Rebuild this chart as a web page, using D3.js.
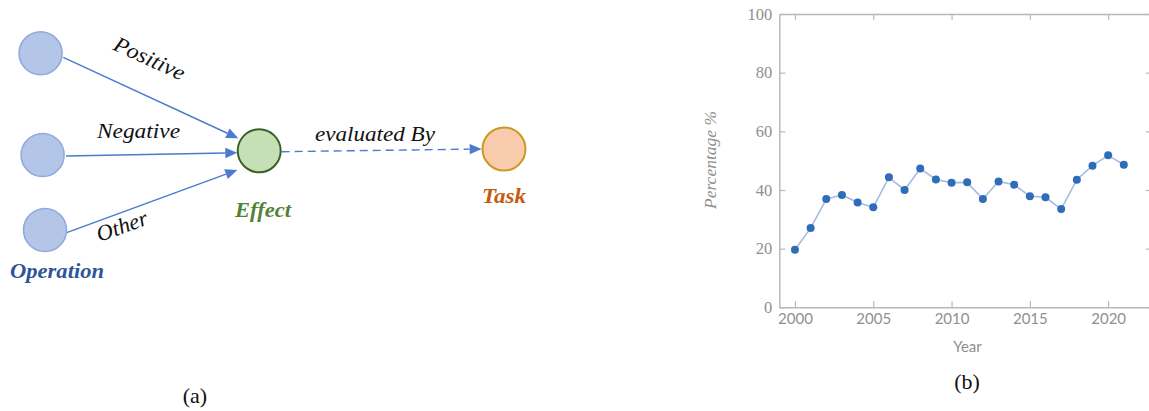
<!DOCTYPE html>
<html>
<head>
<meta charset="utf-8">
<script src="https://cdn.jsdelivr.net/npm/d3@7"></script>
<style>
  html, body { margin: 0; padding: 0; background: #ffffff; }
  svg { display: block; }
</style>
</head>
<body>
<svg id="fig" width="1149" height="411"></svg>
<script>
// ---- Panel (b) data: share per year ----
const years = [2000, 2001, 2002, 2003, 2004, 2005, 2006, 2007, 2008, 2009, 2010,
               2011, 2012, 2013, 2014, 2015, 2016, 2017, 2018, 2019, 2020, 2021];
const percentages = [19.6, 27.0, 36.9, 38.3, 35.7, 34.1, 44.3, 40.0, 47.3, 43.6, 42.5,
                     42.6, 36.9, 42.9, 41.8, 37.9, 37.5, 33.5, 43.5, 48.3, 51.8, 48.6];
const xTickYears = [2000, 2005, 2010, 2015, 2020];
const yTickValues = [0, 20, 40, 60, 80, 100];

// ---- Panel (a) schema: nodes and relations ----
const operationNodes = ["op1", "op2", "op3"];
const relationLabels = ["Positive", "Negative", "Other"];

const svg = d3.select("#fig");
const serif = "'Liberation Serif', 'Times New Roman', serif";

// ================= Panel (a): concept diagram =================
const ga = svg.append("g");

const nodePos = {
  op1: [40.6, 53.3], op2: [42.6, 155], op3: [45, 230],
  effect: [259.2, 150.8], task: [504, 149]
};
const nodeStyle = {
  op: { fill: "#b4c6e7", stroke: "#8faadc", width: 1.6 },
  effect: { fill: "#c5e0b4", stroke: "#3a5f27", width: 2 },
  task: { fill: "#f8cbad", stroke: "#c99a1e", width: 2 }
};
const blue = "#4a7bcc";

// edges: start point on the source circle, arrow tip near the target circle
const edges = [
  { from: [63.3, 57.3], to: [238.3, 138.3], dashed: false },
  { from: [66, 156], to: [237.3, 152.7], dashed: false },
  { from: [66.7, 232.7], to: [237.3, 170], dashed: false },
  { from: [281.7, 151.7], to: [481.7, 149], dashed: true }
];

function arrow(g, e) {
  const [x1, y1] = e.from, [x2, y2] = e.to;
  const dx = x2 - x1, dy = y2 - y1, len = Math.hypot(dx, dy);
  const ux = dx / len, uy = dy / len;
  const headLen = 12, headHalf = 5.2;
  const bx = x2 - ux * headLen, by = y2 - uy * headLen;
  g.append("line")
    .attr("x1", x1).attr("y1", y1).attr("x2", bx).attr("y2", by)
    .attr("stroke", blue).attr("stroke-width", 1.4)
    .attr("stroke-dasharray", e.dashed ? "8,5" : null);
  g.append("path")
    .attr("d", d3.line()([[x2, y2], [bx - uy * headHalf, by + ux * headHalf], [bx + uy * headHalf, by - ux * headHalf]]) + "Z")
    .attr("fill", blue);
}
edges.forEach(e => arrow(ga, e));

operationNodes.forEach(id => {
  ga.append("circle").attr("cx", nodePos[id][0]).attr("cy", nodePos[id][1]).attr("r", 21.5)
    .attr("fill", nodeStyle.op.fill).attr("stroke", nodeStyle.op.stroke)
    .attr("stroke-width", nodeStyle.op.width);
});
ga.append("circle").attr("cx", nodePos.effect[0]).attr("cy", nodePos.effect[1]).attr("r", 21.5)
  .attr("fill", nodeStyle.effect.fill).attr("stroke", nodeStyle.effect.stroke)
  .attr("stroke-width", nodeStyle.effect.width);
ga.append("circle").attr("cx", nodePos.task[0]).attr("cy", nodePos.task[1]).attr("r", 21.5)
  .attr("fill", nodeStyle.task.fill).attr("stroke", nodeStyle.task.stroke)
  .attr("stroke-width", nodeStyle.task.width);

// relation labels (italic, along the edges)
const relLayout = [
  { x: 146.5, y: 65, rot: 24.5, len: 76 },
  { x: 138.5, y: 138.3, rot: 0, len: 83 },
  { x: 124.5, y: 233, rot: -20, len: 53 }
];
relationLabels.forEach((t, i) => {
  const L = relLayout[i];
  ga.append("text")
    .attr("transform", `translate(${L.x},${L.y}) rotate(${L.rot})`)
    .attr("text-anchor", "middle")
    .attr("textLength", L.len).attr("lengthAdjust", "spacingAndGlyphs")
    .attr("font-family", serif).attr("font-style", "italic").attr("font-size", 22)
    .attr("fill", "#111").text(t);
});
ga.append("text").attr("x", 375).attr("y", 140.7).attr("text-anchor", "middle")
  .attr("textLength", 120).attr("lengthAdjust", "spacingAndGlyphs")
  .attr("font-family", serif).attr("font-style", "italic").attr("font-size", 22)
  .attr("fill", "#111").text("evaluated By");

// node type labels
const typeLabels = [
  { text: "Operation", x: 57, y: 278, color: "#2f5597", len: 94 },
  { text: "Effect", x: 263, y: 216.7, color: "#548235", len: 56 },
  { text: "Task", x: 504, y: 203, color: "#c55a11", len: 44 }
];
typeLabels.forEach(l => {
  ga.append("text").attr("x", l.x).attr("y", l.y).attr("text-anchor", "middle")
    .attr("textLength", l.len).attr("lengthAdjust", "spacingAndGlyphs")
    .attr("font-family", serif).attr("font-style", "italic").attr("font-weight", "bold")
    .attr("font-size", 22).attr("fill", l.color).text(l.text);
});

// ================= Panel (b): line chart =================
const gb = svg.append("g");
const x = d3.scaleLinear().domain([1999, 2022.8]).range([779.3, 1152]);
const y = d3.scaleLinear().domain([0, 100]).range([307.3, 14]);
const frameColor = "#b8b8b8";
const labelColor = "#8f8f8f";

function styleAxis(g) {
  g.selectAll(".domain").attr("stroke", frameColor).attr("stroke-width", 1.5);
  g.selectAll(".tick line").attr("stroke", frameColor).attr("stroke-width", 1.2);
}

const axB = gb.append("g").attr("transform", `translate(0,${y(0)})`)
  .call(d3.axisBottom(x).tickValues(xTickYears).tickFormat(d3.format("d"))
    .tickSize(-6).tickSizeOuter(0).tickPadding(6));
styleAxis(axB);
axB.selectAll("text").attr("font-family", "Lato, sans-serif").attr("font-size", 15)
  .attr("fill", labelColor);

const axT = gb.append("g").attr("transform", `translate(0,${y(100)})`)
  .call(d3.axisTop(x).tickValues(xTickYears).tickFormat("").tickSize(-6).tickSizeOuter(0));
styleAxis(axT);

const axL = gb.append("g").attr("transform", `translate(${x.range()[0]},0)`)
  .call(d3.axisLeft(y).tickValues(yTickValues).tickSize(-6).tickSizeOuter(0).tickPadding(7));
styleAxis(axL);
axL.selectAll("text").attr("font-family", serif).attr("font-size", 16.5)
  .attr("fill", labelColor);

const axR = gb.append("g").attr("transform", `translate(${x.range()[1]},0)`)
  .call(d3.axisRight(y).tickValues(yTickValues).tickFormat("").tickSize(-6).tickSizeOuter(0));
styleAxis(axR);

// series line and markers
const pts = years.map((yr, i) => [yr, percentages[i]]);
gb.append("path").datum(pts)
  .attr("d", d3.line().x(d => x(d[0])).y(d => y(d[1])))
  .attr("fill", "none").attr("stroke", "#a3bde3").attr("stroke-width", 1.6);
gb.selectAll("circle.pt").data(pts).join("circle").attr("class", "pt")
  .attr("cx", d => x(d[0])).attr("cy", d => y(d[1])).attr("r", 4)
  .attr("fill", "#2f6db8");

// axis titles
gb.append("text").attr("x", 967.5).attr("y", 352).attr("text-anchor", "middle")
  .attr("font-family", "Lato, sans-serif").attr("font-size", 15).attr("fill", labelColor)
  .text("Year");
gb.append("text").attr("transform", `translate(716,160) rotate(-90)`)
  .attr("text-anchor", "middle")
  .attr("font-family", serif).attr("font-style", "italic").attr("font-size", 17.5)
  .attr("fill", labelColor).text("Percentage %");

// ================= Panel captions =================
svg.append("text").attr("x", 195).attr("y", 403).attr("text-anchor", "middle")
  .attr("font-family", serif).attr("font-size", 22).attr("fill", "#111").text("(a)");
svg.append("text").attr("x", 967).attr("y", 389).attr("text-anchor", "middle")
  .attr("font-family", serif).attr("font-size", 22).attr("fill", "#111").text("(b)");
</script>
</body>
</html>
